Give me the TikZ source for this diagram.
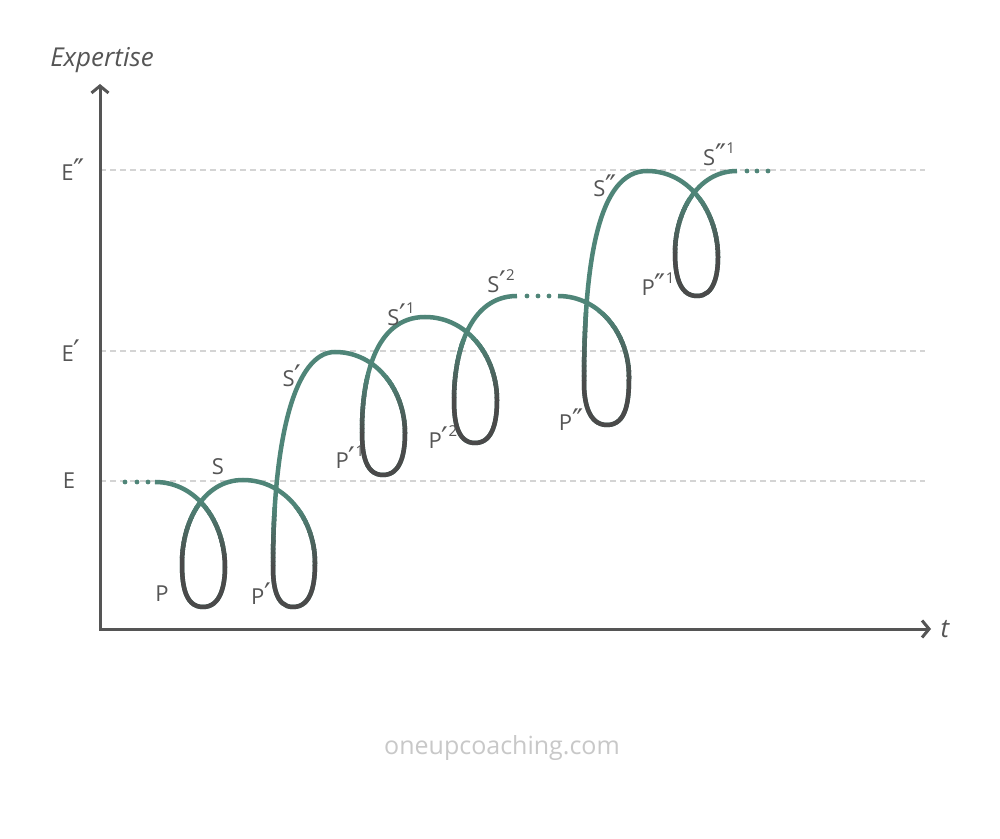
\documentclass[tikz,border=0pt]{standalone}
\usepackage{fontspec}
\setmainfont{Open Sans}
\newfontfamily\primefont[Scale=1.35]{DejaVu Sans}
\usetikzlibrary{arrows.meta}

\definecolor{curveteal}{HTML}{4F8578}
\definecolor{loopgray}{HTML}{4A4A4A}
\definecolor{axisgray}{HTML}{555555}
\definecolor{guidegray}{HTML}{D4D4D4}
\definecolor{markgray}{HTML}{C8C8C8}

\newcommand\pr{{\primefont ′}}
\newcommand\ppr{{\primefont ″}}
\newcommand\idx[1]{\raisebox{1.0ex}{\fontsize{15}{18}\selectfont #1}}

\tikzset{
  axis/.style={axisgray, line width=3pt, line join=miter,
    {Straight Barb[length=7pt,width=17pt]}-{Straight Barb[length=7pt,width=17pt]}},
  guide/.style={guidegray, line width=1.2pt, dash pattern=on 6pt off 4pt},
  curve/.style={line width=4.5pt, line join=round},
  ellipsis/.style={fill=curveteal, draw=none},
  lbl/.style={text=axisgray, font=\fontsize{22}{26}\selectfont, inner sep=0pt},
  axislbl/.style={text=axisgray, font=\fontsize{26}{30}\selectfont\itshape, inner sep=0pt}
}

% the learning curve: plateaus P, S-curves S
\newcommand\curvepath{
  (155,356) to[out=0,in=90] (225,271) to[out=-90,in=0] (203,231)
  to[out=180,in=-90] (182,275) to[out=90,in=180] (243,358)
  to[out=0,in=90] (315,275) to[out=-90,in=0] (293,231)
  to[out=180,in=-90] (273,271) .. controls (273,400) and (295,486) .. (335,486)
  to[out=0,in=90] (405,405) to[out=-90,in=0] (383,363)
  to[out=180,in=-90] (362,408) to[out=90,in=180] (425,521)
  to[out=0,in=90] (497,438) to[out=-90,in=0] (475,395)
  to[out=180,in=-90] (454,438) to[out=90,in=180] (517,542)
  (558,542) to[out=0,in=90] (629,461) to[out=-90,in=0] (607,413)
  to[out=180,in=-90] (584,455) .. controls (584,575) and (598,667) .. (647,667)
  to[out=0,in=90] (718,581) to[out=-90,in=0] (697,542)
  to[out=180,in=-90] (675,585) to[out=90,in=180] (737,667)
}

\begin{document}
\begin{tikzpicture}[x=1pt, y=1pt]

  \fill[white] (0,0) rectangle (1000,838);
  \useasboundingbox (0,0) rectangle (1000,838);

  % levels
  \draw[guide] (100,357) -- (925,357);
  \draw[guide] (100,487) -- (925,487);
  \draw[guide] (100,668) -- (925,668);

  \node[lbl] (levelE) at (69,357) {E};
  \node[lbl] (levelEp) at (71,487) {E\pr};
  \node[lbl] (levelEpp) at (73,668) {E\ppr};

  % axes
  \coordinate (origin) at (100,209);
  \coordinate (ytip) at (100,754);
  \coordinate (xtip) at (931,209);
  \draw[axis] (ytip) -- (origin) -- (xtip);

  \node[axislbl] (ylabel) at (102,778) {Expertise};
  \node[axislbl] (xlabel) at (945,209) {t};

  % curve, teal on top
  \draw[curve, curveteal] \curvepath;

  % loops fade to gray towards the bottom
  \foreach \xa/\xb/\yt/\yb in {165/240/335/280, 255/330/330/272,
      345/420/462/405, 440/512/498/440, 570/645/525/457, 660/735/640/585} {
    \begin{scope}
      \clip (\xa,150) rectangle (\xb,\yb);
      \draw[curve, loopgray] \curvepath;
    \end{scope}
    \foreach \k in {1,...,14} {
      \pgfmathsetmacro\ylo{\yb+(\k-1)*(\yt-\yb)/14}
      \pgfmathsetmacro\yhi{\yb+\k*(\yt-\yb)/14+0.6}
      \pgfmathtruncatemacro\mix{100-\k*100/15}
      \begin{scope}
        \clip (\xa,\ylo) rectangle (\xb,\yhi);
        \draw[curve, loopgray!\mix!curveteal] \curvepath;
      \end{scope}
    }
  }

  % dots
  \foreach \x in {125,137,148} \fill[ellipsis] (\x,356) circle (2.4);
  \foreach \x in {527,538,549} \fill[ellipsis] (\x,542) circle (2.4);
  \foreach \x in {747,757,768} \fill[ellipsis] (\x,667) circle (2.4);

  % labels
  \node[lbl] (labS) at (218,371) {S};
  \node[lbl] (labP) at (162,244) {P};
  \node[lbl] (labPp) at (261,244) {P\pr};
  \node[lbl] (labSp) at (292,462) {S\pr};
  \node[lbl] (labPpa) at (350,381) {P\pr\idx{1}};
  \node[lbl] (labSpa) at (401,524) {S\pr\idx{1}};
  \node[lbl] (labPpb) at (443,401) {P\pr\idx{2}};
  \node[lbl] (labSpb) at (501,557) {S\pr\idx{2}};
  \node[lbl] (labPpp) at (571,418) {P\ppr};
  \node[lbl] (labSpp) at (605,652) {S\ppr};
  \node[lbl] (labPppa) at (658,554) {P\ppr\idx{1}};
  \node[lbl] (labSppa) at (719,684) {S\ppr\idx{1}};

  \node[text=markgray, font=\fontsize{25}{30}\selectfont, inner sep=0pt] (mark) at (502,90) {oneupcoaching.com};

\end{tikzpicture}
\end{document}
